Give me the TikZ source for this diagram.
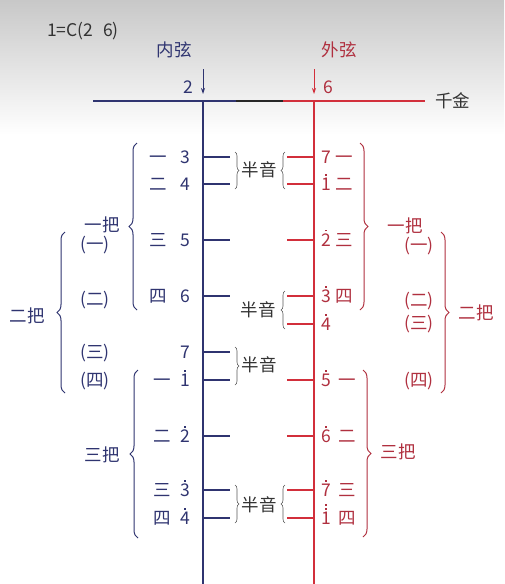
\documentclass[tikz,border=0pt]{standalone}
\usepackage{fontspec}
\setmainfont{Noto Sans CJK SC}
\usepackage{tikz}
\usetikzlibrary{arrows.meta,decorations.pathreplacing,positioning}
\definecolor{inner}{HTML}{2F3470}
\definecolor{outerline}{HTML}{D22F3B}
\definecolor{outertext}{HTML}{B0303F}
\definecolor{txt}{HTML}{333333}
\definecolor{bggray}{HTML}{C8C8C8}
\tikzset{
  lab/.style={font=\fontsize{17.5}{17.5}\selectfont,inner sep=0pt},
  num/.style={font=\fontsize{17.5}{17.5}\selectfont,inner sep=0pt,anchor=base},
  string/.style={line width=2.2pt},
  fret/.style={line width=2.2pt},
  bigbrace/.style={decorate,decoration={brace,amplitude=8pt},line width=1pt},
  smallbrace/.style={decorate,decoration={brace,amplitude=4pt},line width=0.6pt,black!65},
  arr/.style={line width=0.9pt,-{Stealth[length=6pt,width=4pt]}}
}
% dots above a digit (higher octave)
\newcommand\hdot{\rule{1.7pt}{1.7pt}}
\newcommand\hd[1]{\vbox{\offinterlineskip\halign{\hfil##\hfil\cr\hdot\cr\noalign{\kern1.8pt}#1\cr}}}
\newcommand\hhd[1]{\vbox{\offinterlineskip\halign{\hfil##\hfil\cr\hdot\cr\noalign{\kern2.4pt}\hdot\cr\noalign{\kern1.6pt}#1\cr}}}
\begin{document}
\begin{tikzpicture}[x=1pt,y=-1pt]
\fill[white] (0,0) rectangle (504,584);
\shade[top color=bggray,bottom color=white] (0,0) rectangle (504,135);
\useasboundingbox (0,0) rectangle (504,584);

\node[lab,txt] (key) at (83,31) {1=C(2\hspace{0.55em}6)};
\node[lab,inner] (neixian) at (174,50) {内弦};
\node[lab,outertext] (waixian) at (339,50) {外弦};

% qianjin and the two strings
\coordinate (qa) at (93,101);
\coordinate (qb) at (236,101);
\coordinate (qc) at (283,101);
\coordinate (qd) at (425,101);
\draw[inner,line width=2pt] (qa) -- (qb);
\draw[black!85,line width=2pt] (qb) -- (qc);
\draw[outerline,line width=2pt] (qc) -- (qd);
\node[lab,txt,anchor=west] (qianjin) at (435,101) {千金};
\coordinate (ntop) at (203,101);
\coordinate (nbot) at (203,584);
\coordinate (wtop) at (314,101);
\coordinate (wbot) at (314,584);
\draw[inner,string] (ntop) -- (nbot);
\draw[outerline,string] (wtop) -- (wbot);

% open strings
\coordinate (narr) at (203,69);
\coordinate (warr) at (314,69);
\coordinate (narrend) at (203,94);
\coordinate (warrend) at (314,94);
\draw[inner,arr] (narr) -- (narrend);
\draw[outerline,arr] (warr) -- (warrend);
\node[num,inner] (open2) at (188,93) {2};
\node[num,outertext] (open6) at (328,93) {6};

% inner string
\foreach \y/\n [count=\i] in {157/3,184/4,240/5,296/6,352/7,380/\hd{1},436/\hd{2},490/\hd{3},518/\hd{4}}{
  \draw[inner,fret] (203,\y) -- ++(27,0);
  \node[num,inner] (nn\i) at (185,\y+6) {\n};
}
\foreach \y/\c [count=\i] in {157/一,184/二,240/三,296/四}
  \node[num,inner] (nca\i) at (158,\y+6) {\c};
\foreach \y/\c [count=\i] in {380/一,436/二,490/三,518/四}
  \node[num,inner] (ncb\i) at (162,\y+6) {\c};

% outer string
\foreach \y/\n [count=\i] in {157/7,184/\hd{1},240/\hd{2},296/\hd{3},324/\hd{4},380/\hd{5},436/\hd{6},490/\hd{7},518/\hhd{1}}{
  \draw[outerline,fret] (314,\y) -- ++(-27,0);
  \node[num,outertext] (wn\i) at (326,\y+6) {\n};
}
\foreach \y/\c [count=\i] in {157/一,184/二,240/三,296/四}
  \node[num,outertext] (wca\i) at (344,\y+6) {\c};
\foreach \y/\c [count=\i] in {380/一,436/二,490/三,518/四}
  \node[num,outertext] (wcb\i) at (347,\y+6) {\c};

% positions, inner
\draw[inner,bigbrace] (137,310) -- (137,143);
\node[lab,inner] (nyiba) at (102,225) {一把};
\draw[inner,bigbrace] (65,393) -- (65,232);
\node[lab,inner] (nerba) at (27,316) {二把};
\draw[inner,bigbrace] (138,538) -- (138,370);
\node[lab,inner] (nsanba) at (102,455) {三把};
\foreach \y/\c [count=\i] in {244/(一),299/(二),352/(三),380/(四)}
  \node[num,inner] (np\i) at (95,\y+6) {\c};

% positions, outer
\draw[outertext,bigbrace] (360,143) -- (360,310);
\node[lab,outertext] (wyiba) at (405,226) {一把};
\draw[outertext,bigbrace] (441,232) -- (441,393);
\node[lab,outertext] (werba) at (476,313) {二把};
\draw[outertext,bigbrace] (363,370) -- (363,537);
\node[lab,outertext] (wsanba) at (398,452) {三把};
\foreach \y/\c [count=\i] in {245/(一),300/(二),323/(三),380/(四)}
  \node[num,outertext] (wp\i) at (419,\y+6) {\c};

% semitones
\draw[smallbrace] (235,152) -- (235,189);
\draw[smallbrace] (285,189) -- (285,152);
\node[lab,txt] (bany1) at (259,170) {半音};
\draw[smallbrace] (285,329) -- (285,291);
\node[lab,txt] (bany2) at (258,310) {半音};
\draw[smallbrace] (235,347) -- (235,385);
\node[lab,txt] (bany3) at (259,365) {半音};
\draw[smallbrace] (235,485) -- (235,523);
\draw[smallbrace] (285,523) -- (285,485);
\node[lab,txt] (bany4) at (259,505) {半音};
\end{tikzpicture}
\end{document}
